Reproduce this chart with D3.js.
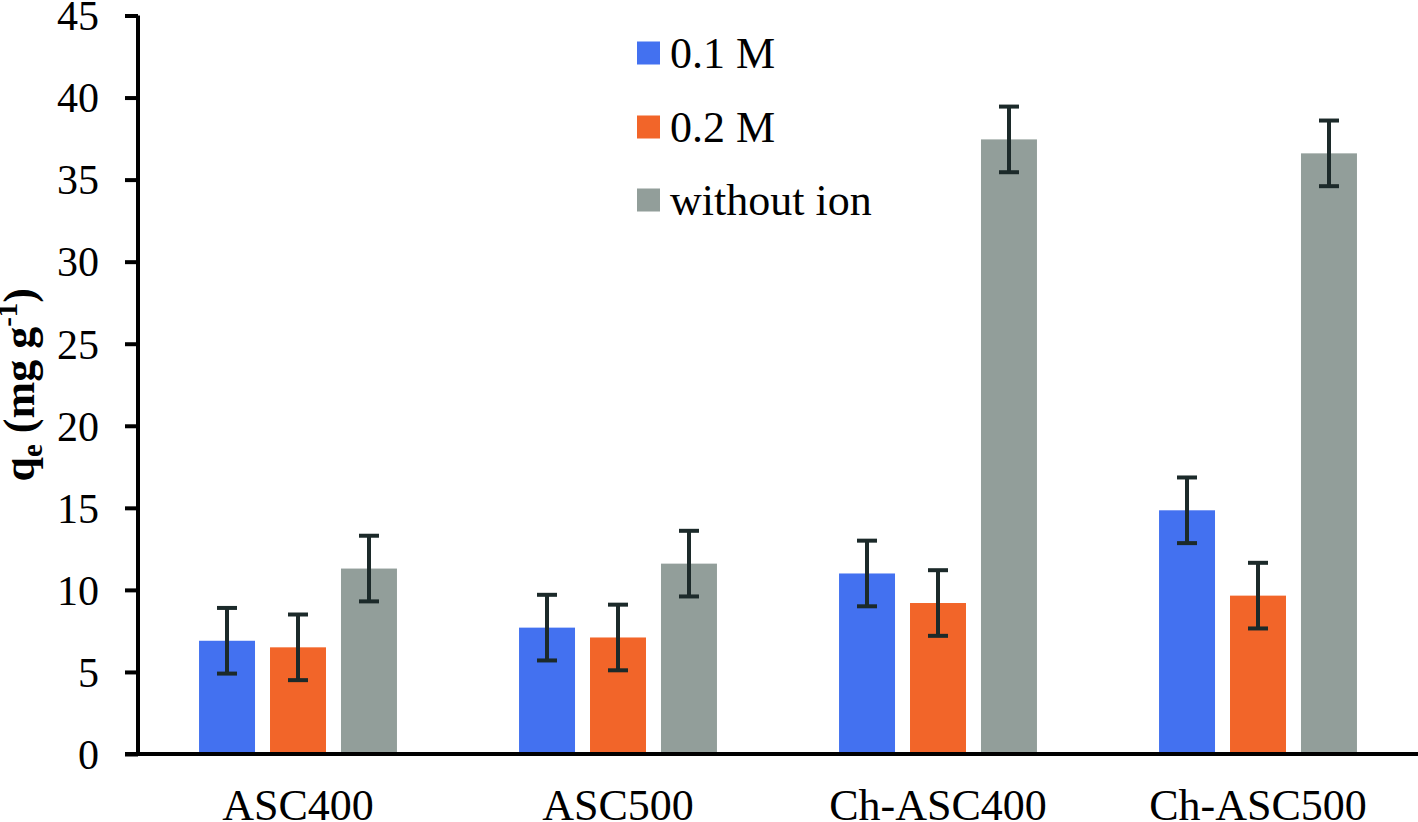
<!DOCTYPE html>
<html>
<head>
<meta charset="utf-8">
<script src="https://cdn.jsdelivr.net/npm/d3@7"></script>
<style>
html,body{margin:0;padding:0;background:#fff;}
svg{display:block;}
</style>
</head>
<body>
<svg id="chart" width="1418" height="822"></svg>
<script>
const categories = ["ASC400", "ASC500", "Ch-ASC400", "Ch-ASC500"];
const seriesNames = ["0.1 M", "0.2 M", "without ion"];
const values01 = [6.9, 7.7, 11.0, 14.85];
const values02 = [6.5, 7.1, 9.2, 9.65];
const valuesNone = [11.3, 11.6, 37.45, 36.6];
const err01 = [2, 2, 2, 2];
const err02 = [2, 2, 2, 2];
const errNone = [2, 2, 2, 2];
const yTicks = [0, 5, 10, 15, 20, 25, 30, 35, 40, 45];
const colors = ["#4371f0", "#f26529", "#929e9a"];

const FONT = "Liberation Serif";
const seriesVals = [values01, values02, valuesNone];
const seriesErr = [err01, err02, errNone];

const svg = d3.select("#chart");
const mLeft = 138, mRight = 1418, mTop = 15.5, mBottom = 754;

const y = d3.scaleLinear().domain([0, 45]).range([mBottom, mTop]);
const x0 = d3.scaleBand().domain(categories).range([mLeft, mRight]).paddingInner(0).paddingOuter(0);
const x1 = d3.scaleBand().domain(seriesNames).range([0, x0.bandwidth()])
  .paddingInner(15/71).paddingOuter(0.86);

// bars
const groups = svg.append("g").selectAll("g").data(categories).join("g")
  .attr("transform", d => `translate(${x0(d)},0)`);

groups.each(function(cat, ci) {
  const g = d3.select(this);
  seriesNames.forEach((s, si) => {
    const v = seriesVals[si][ci];
    g.append("rect")
      .attr("x", x1(s)).attr("width", x1.bandwidth())
      .attr("y", y(v)).attr("height", y(0) - y(v))
      .attr("fill", colors[si]);
  });
});

// error bars
groups.each(function(cat, ci) {
  const g = d3.select(this);
  seriesNames.forEach((s, si) => {
    const v = seriesVals[si][ci], e = seriesErr[si][ci];
    const cx = x1(s) + x1.bandwidth() / 2;
    const eg = g.append("g").attr("stroke", "#1c2a2a").attr("stroke-width", 4);
    eg.append("line").attr("x1", cx).attr("x2", cx).attr("y1", y(v + e)).attr("y2", y(v - e));
    eg.append("line").attr("x1", cx - 10).attr("x2", cx + 10).attr("y1", y(v + e)).attr("y2", y(v + e));
    eg.append("line").attr("x1", cx - 10).attr("x2", cx + 10).attr("y1", y(v - e)).attr("y2", y(v - e));
  });
});

// y axis
const yAxis = d3.axisLeft(y).tickValues(yTicks).tickSize(13).tickPadding(26).tickFormat(d3.format("d"));
const yg = svg.append("g").attr("transform", `translate(${mLeft},0)`).call(yAxis);
yg.attr("font-family", FONT).attr("font-size", 42);
yg.select(".domain").attr("stroke", "#000").attr("stroke-width", 4).attr("d", `M0,${mBottom}V${mTop}`);
yg.selectAll(".tick line").attr("stroke", "#000").attr("stroke-width", 4);
yg.selectAll(".tick text").style("font-family", FONT).style("font-size", "42px").attr("fill", "#000").attr("dy", "0.34em");

// x axis
const xAxis = d3.axisBottom(x0).tickSize(0).tickPadding(35);
const xg = svg.append("g").attr("transform", `translate(0,${mBottom})`).call(xAxis);
xg.attr("font-family", FONT).attr("font-size", 44);
xg.select(".domain").attr("stroke", "#000").attr("stroke-width", 4).attr("d", `M${mLeft - 13},0H${mRight}`);
xg.selectAll(".tick text").style("font-family", FONT).style("font-size", "44px").attr("fill", "#000");

// y title
const yt = svg.append("text")
  .attr("transform", `translate(34,${(mTop + mBottom) / 2}) rotate(-90)`)
  .attr("text-anchor", "middle")
  .style("font-family", FONT).style("font-size", "44px").style("font-weight", "bold");
yt.append("tspan").text("q");
yt.append("tspan").text("e").style("font-size", "29px").attr("dy", 8);
yt.append("tspan").text(" (mg g").attr("dy", -8);
yt.append("tspan").text("-1").style("font-size", "29px").attr("dy", -17);
yt.append("tspan").text(")").attr("dy", 17);

// legend
const legend = svg.append("g").attr("transform", "translate(637,0)");
const legendY = [53, 127, 200];
seriesNames.forEach((s, i) => {
  legend.append("rect").attr("x", 0).attr("y", legendY[i] - 11.5).attr("width", 23).attr("height", 23).attr("fill", colors[i]);
  legend.append("text").attr("x", 33).attr("y", legendY[i]).attr("dy", "0.35em")
    .style("font-family", FONT).style("font-size", "44px").text(s);
});
</script>
</body>
</html>
